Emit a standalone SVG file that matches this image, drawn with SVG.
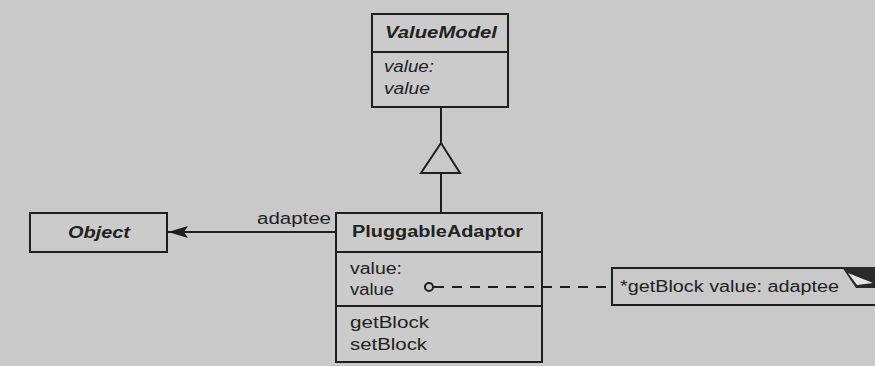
<svg xmlns="http://www.w3.org/2000/svg" width="875" height="366" viewBox="0 0 875 366">
<defs>
<style>
.bg{fill:#c9c9c9}
.box{fill:#cbcbcb;stroke:#1e1e1e;stroke-width:2}
.ln{stroke:#1e1e1e;stroke-width:2;fill:none}
.t{font-family:"Liberation Sans",Arial,sans-serif;font-size:16px;fill:#222}
.b{font-weight:bold}
.i{font-style:italic}
</style>
<marker id="filled" viewBox="0 0 20 12" refX="20" refY="6" markerWidth="20" markerHeight="12" markerUnits="userSpaceOnUse" orient="auto">
<path d="M0,0 L20,6 L0,12 L4,6 Z" fill="#1e1e1e"/>
</marker>
</defs>
<rect class="bg" x="0" y="0" width="875" height="366"/>

<g id="ValueModel">
<rect class="box" x="372" y="14" width="136" height="93"/>
<line class="ln" x1="372" y1="52" x2="508" y2="52"/>
<text class="t b i" x="385" y="38" textLength="112" lengthAdjust="spacingAndGlyphs">ValueModel</text>
<text class="t i" x="384" y="72" textLength="50" lengthAdjust="spacingAndGlyphs">value:</text>
<text class="t i" x="384" y="94" textLength="46" lengthAdjust="spacingAndGlyphs">value</text>
</g>

<g id="Object">
<rect class="box" x="30" y="213" width="137" height="39"/>
<text class="t b i" x="68" y="238" textLength="62" lengthAdjust="spacingAndGlyphs">Object</text>
</g>

<g id="PluggableAdaptor">
<rect class="box" x="336" y="213" width="206" height="149"/>
<line class="ln" x1="336" y1="252" x2="542" y2="252"/>
<line class="ln" x1="336" y1="306" x2="542" y2="306"/>
<text class="t b" x="352" y="237" textLength="171" lengthAdjust="spacingAndGlyphs">PluggableAdaptor</text>
<text class="t" x="350" y="274" textLength="52" lengthAdjust="spacingAndGlyphs">value:</text>
<text class="t" x="350" y="295" textLength="44" lengthAdjust="spacingAndGlyphs">value</text>
<text class="t" x="350" y="328" textLength="79" lengthAdjust="spacingAndGlyphs">getBlock</text>
<text class="t" x="350" y="350" textLength="77" lengthAdjust="spacingAndGlyphs">setBlock</text>
</g>

<g id="note">
<path class="ln" d="M880,268 L612,268 L612,305 L880,305"/>
<polygon points="842,267 876,267 876,288 856,288" fill="#2a2a2a"/>
<polygon points="848,273 873,283 857,285" fill="#e4e4e4"/>
<text class="t" x="620" y="292" textLength="219" lengthAdjust="spacingAndGlyphs">*getBlock value: adaptee</text>
</g>

<g id="connectors">
<line class="ln" x1="441" y1="107" x2="441" y2="143"/>
<polygon class="ln" points="441,143 421,173 460,173"/>
<line class="ln" x1="441" y1="173" x2="441" y2="213"/>
<line class="ln" x1="336" y1="232" x2="168" y2="232" marker-end="url(#filled)"/>
<text class="t" x="257" y="224" textLength="74" lengthAdjust="spacingAndGlyphs">adaptee</text>
<circle class="ln" cx="429" cy="287" r="4"/>
<line class="ln" x1="434" y1="287" x2="612" y2="287" stroke-dasharray="10 8"/>
</g>
</svg>
